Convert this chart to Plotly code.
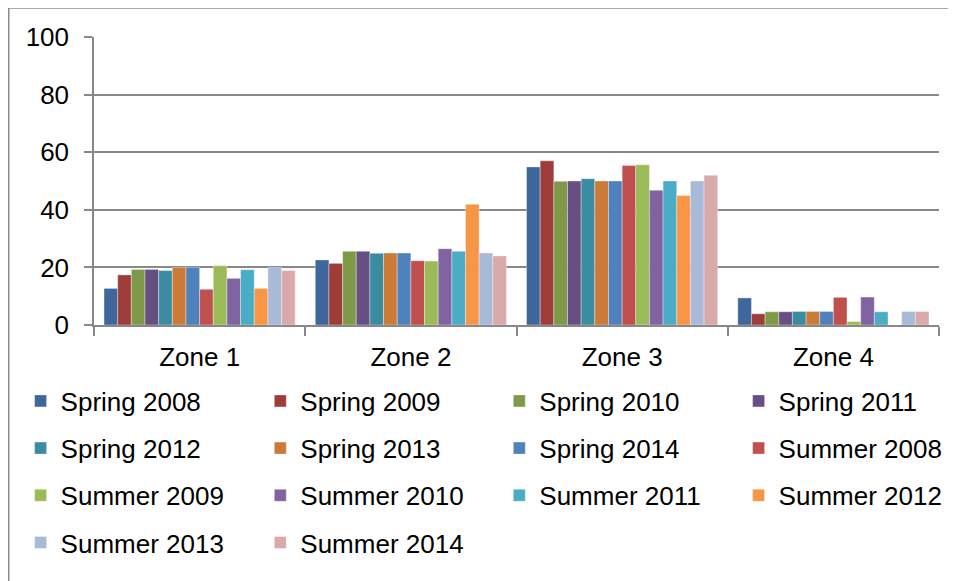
import plotly.graph_objects as go

zones = ["Zone 1", "Zone 2", "Zone 3", "Zone 4"]
series_names = ["Spring 2008", "Spring 2009", "Spring 2010", "Spring 2011",
                "Spring 2012", "Spring 2013", "Spring 2014", "Summer 2008",
                "Summer 2009", "Summer 2010", "Summer 2011", "Summer 2012",
                "Summer 2013", "Summer 2014"]
spring_2008 = [12.7, 22.6, 54.9, 9.4]
spring_2009 = [17.4, 21.4, 57.0, 3.9]
spring_2010 = [19.3, 25.6, 49.9, 4.6]
spring_2011 = [19.3, 25.6, 50.0, 4.6]
spring_2012 = [18.9, 24.9, 50.8, 4.7]
spring_2013 = [20.0, 25.0, 50.0, 4.7]
spring_2014 = [20.0, 25.0, 50.0, 4.7]
summer_2008 = [12.4, 22.3, 55.4, 9.6]
summer_2009 = [20.6, 22.2, 55.6, 1.2]
summer_2010 = [16.2, 26.5, 46.8, 9.7]
summer_2011 = [19.2, 25.6, 50.0, 4.6]
summer_2012 = [12.7, 41.9, 45.0, 0.0]
summer_2013 = [20.0, 25.0, 50.0, 4.7]
summer_2014 = [18.9, 24.0, 52.0, 4.7]
series_values = [spring_2008, spring_2009, spring_2010, spring_2011, spring_2012,
                 spring_2013, spring_2014, summer_2008, summer_2009, summer_2010,
                 summer_2011, summer_2012, summer_2013, summer_2014]
y_ticks = [0, 20, 40, 60, 80, 100]

colors = ["#3F679B", "#9E3C3A", "#7E9A48", "#674F84", "#3B8BA1", "#CB7A37",
          "#4F81BD", "#C0504D", "#9BBB59", "#8064A2", "#4BACC6", "#F79646",
          "#A9B9D8", "#D9AAA9"]

FONT = "Liberation Sans, Arial, sans-serif"
GRID = "#888888"
FS = 26

# figure is 948x573 (page body has an 8px margin); plot area x 86..931, y 29..317
PL, PR, PT, PB = 86, 931, 29, 317
W, H = 948, 573
PW, PH = PR - PL, PB - PT

def px_x(x):
    return (x - PL) / PW

def px_y(y):
    return (PB - y) / PH

fig = go.Figure()
for i, (name, vals) in enumerate(zip(series_names, series_values)):
    col = i % 4
    leg = "legend" if col == 0 else f"legend{col + 1}"
    fig.add_trace(go.Bar(
        x=zones, y=vals, name=name, legend=leg, legendgroup=name,
        marker=dict(color=colors[i], line=dict(color="rgba(255,255,255,0.6)", width=0.6)),
    ))

col_x = [12.6, 252.3, 491.3, 730.6]
legend_common = dict(orientation="v", xanchor="left", yanchor="top",
                     font=dict(family=FONT, size=FS, color="black"),
                     bgcolor="rgba(0,0,0,0)", itemwidth=30, tracegroupgap=10.4)
layout_legends = {}
for c, cx in enumerate(col_x):
    key = "legend" if c == 0 else f"legend{c + 1}"
    layout_legends[key] = dict(legend_common, x=px_x(cx), y=px_y(369.5))

fig.update_layout(
    width=W, height=H,
    margin=dict(l=PL, r=W - PR, t=PT, b=H - PB, autoexpand=False),
    paper_bgcolor="white", plot_bgcolor="white",
    barmode="group", bargap=0.095, bargroupgap=0,
    font=dict(family=FONT, size=FS, color="black"),
    showlegend=True,
    xaxis=dict(showline=True, linecolor=GRID, linewidth=1.5, ticks="outside",
               tickson="boundaries", ticklen=9, tickcolor=GRID, tickwidth=1.5,
               tickfont=dict(family=FONT, size=FS, color="black"), showgrid=False,
               ticklabelstandoff=8),
    yaxis=dict(range=[0, 100], tickvals=y_ticks, showline=True, linecolor=GRID,
               linewidth=1.5, ticks="outside", ticklen=8, tickcolor=GRID, tickwidth=1.5,
               showgrid=True, gridcolor=GRID, gridwidth=1.5, zeroline=False,
               tickfont=dict(family=FONT, size=FS, color="black"),
               ticklabelstandoff=10),
    shapes=[
        dict(type="line", xref="paper", yref="paper", x0=px_x(0.75), x1=px_x(W + 10),
             y0=px_y(0), y1=px_y(0), line=dict(color="#8C8C8C", width=1.5)),
        dict(type="line", xref="paper", yref="paper", x0=px_x(0.75), x1=px_x(0.75),
             y0=px_y(0), y1=px_y(H + 10), line=dict(color="#8C8C8C", width=1.5)),
    ],
    **layout_legends,
)

fig.write_html("out.html")
